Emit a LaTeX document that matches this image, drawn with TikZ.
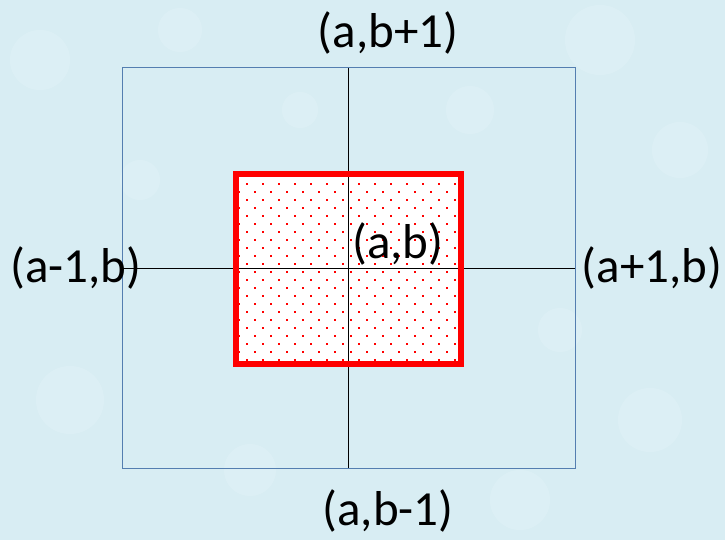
\documentclass[tikz,border=0pt]{standalone}
\usepackage{fontspec}
\setmainfont{Carlito}
\definecolor{bgblue}{RGB}{216,237,243}
\definecolor{bglight}{RGB}{230,245,249}
\definecolor{frameblue}{RGB}{84,126,176}
\definecolor{redsq}{RGB}{255,0,0}
\tikzset{
  lbl/.style={inner sep=0pt, font=\fontsize{49}{58}\selectfont, text=black},
  frame/.style={draw=frameblue, line width=1pt},
  axis/.style={draw=black, line width=1pt},
  cellborder/.style={draw=redsq, line width=6pt},
  dotmark/.style={fill=redsq}
}
\begin{document}
\begin{tikzpicture}[x=1pt,y=-1pt]
\fill[bgblue] (0,0) rectangle (725,540);
\useasboundingbox (0,0) rectangle (725,540);
% faint texture blobs
\foreach \cx/\cy/\r in {40/60/30,180/30/22,600/40/35,680/150/28,70/400/34,250/470/26,520/500/30,650/420/32,140/180/20,470/110/24,560/330/22,300/110/18}{
  \fill[bglight, opacity=0.35] (\cx,\cy) circle (\r);
}
% blue frame and cross
\coordinate (tl) at (122,68);
\coordinate (br) at (575,468);
\coordinate (vt) at (348,68);
\coordinate (vb) at (348,468);
\coordinate (hl) at (122,268);
\coordinate (hr) at (575,268);
\draw[frame] (tl) rectangle (br);
% red cell
\coordinate (c1) at (236,174);
\coordinate (c2) at (461,364);
\fill[white] (c1) rectangle (c2);
\begin{scope}
\clip (239,177) rectangle (458,361);
\foreach \j in {0,...,23}{
  \pgfmathsetmacro{\yy}{176+8*\j}
  \pgfmathsetmacro{\off}{mod(\j,2)*8}
  \foreach \i in {0,...,14}{
    \fill[dotmark] ({238.7+\off+16*\i-1},{\yy-1}) rectangle ++(2,2);
  }
}
\end{scope}
\draw[axis] (vt) -- (vb);
\draw[axis] (hl) -- (hr);
\draw[cellborder] (c1) rectangle (c2);
% labels
\node[lbl] (top) at (388,33) {(a,b+1)};
\node[lbl] (bot) at (388,511) {(a,b-1)};
\node[lbl] (left) at (76,268) {(a-1,b)};
\node[lbl] (right) at (652,268) {(a+1,b)};
\node[lbl] (ctr) at (398,244) {(a,b)};
\end{tikzpicture}
\end{document}
